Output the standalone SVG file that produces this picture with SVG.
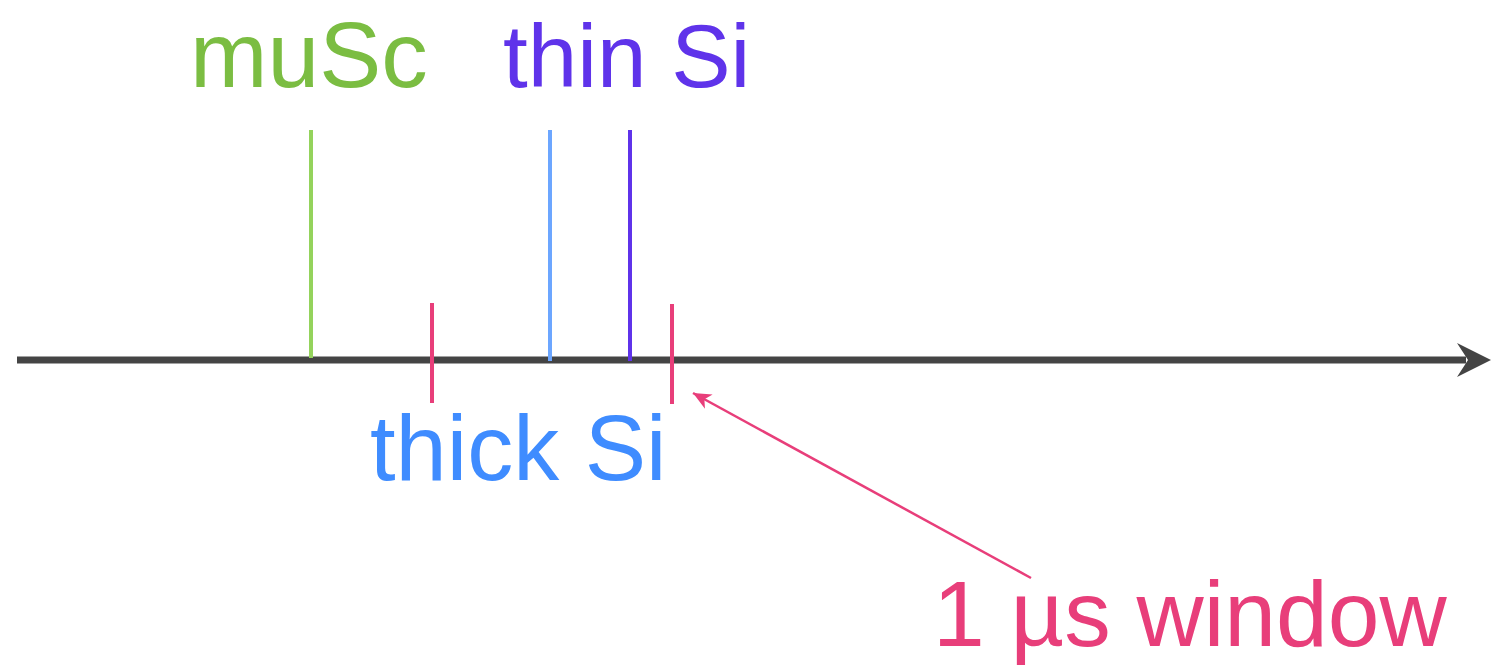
<svg xmlns="http://www.w3.org/2000/svg" width="1492" height="667" viewBox="0 0 1492 667">
  <style>
    .lbl { font-family: "Liberation Sans", Arial, sans-serif; }
    .tick { stroke-width: 4; fill: none; }
  </style>
  <defs>
    <marker id="pinkHead" markerUnits="userSpaceOnUse" markerWidth="20" markerHeight="20" refX="18" refY="8" orient="auto" viewBox="0 0 20 16">
      <path d="M18,8 L0,0 L5,8 L0,16 Z" fill="#E83E7A"/>
    </marker>
  </defs>
  <rect width="1492" height="667" fill="#FFFFFF"/>

  <g id="connectors">
    <g id="axis">
      <line x1="17" y1="360" x2="1466" y2="360" stroke="#444444" stroke-width="7"/>
      <path d="M1491,360 L1457,343 L1468,360 L1457,377 Z" fill="#444444"/>
    </g>
    <line id="window-pointer" x1="1031" y1="578" x2="693" y2="393" stroke="#E83E7A" stroke-width="2.5" marker-end="url(#pinkHead)"/>
  </g>

  <g id="muSc">
    <line class="tick" x1="311" y1="130" x2="311" y2="358" stroke="#94D35C"/>
    <text class="lbl" x="190" y="87" font-size="93" fill="#7BBD42">muSc</text>
  </g>

  <g id="thick-Si">
    <line class="tick" x1="550" y1="130" x2="550" y2="361" stroke="#6CA6FF"/>
    <text class="lbl" x="370" y="480" font-size="92" fill="#3F8CFF">thick Si</text>
  </g>

  <g id="thin-Si">
    <line class="tick" x1="630" y1="130" x2="630" y2="361" stroke="#5F33EA"/>
    <text class="lbl" x="503" y="87" font-size="89" fill="#5F33EA">thin Si</text>
  </g>

  <g id="window">
    <line class="tick" x1="432" y1="303" x2="432" y2="403" stroke="#E83E7A"/>
    <line class="tick" x1="672" y1="304" x2="672" y2="404" stroke="#E83E7A"/>
    <text class="lbl" x="933" y="646" font-size="93" fill="#E83E7A">1 µs window</text>
  </g>
</svg>
